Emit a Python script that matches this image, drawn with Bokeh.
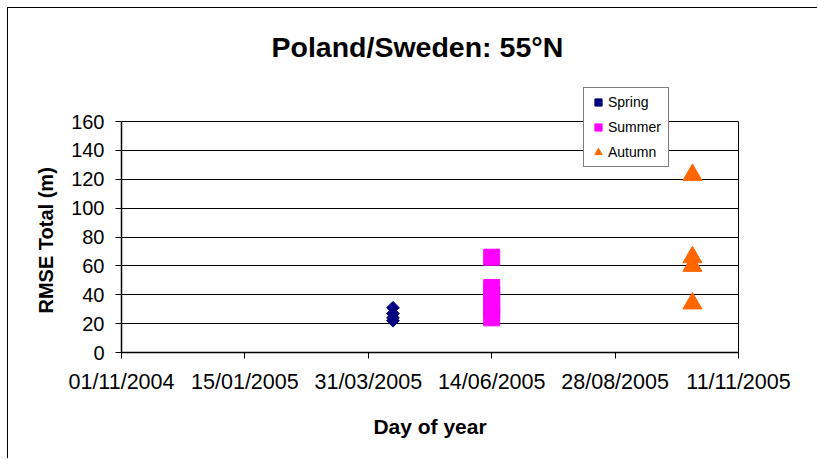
import pandas as pd
from bokeh.plotting import figure
from bokeh.models import (ColumnDataSource, FixedTicker, DatetimeTickFormatter,
                          Range1d, Legend, LegendItem, LinearAxis, Title)
from bokeh.embed import file_html
from bokeh.resources import INLINE
import math

# ---- data ----
spring_dates = ["15/04/2005", "15/04/2005", "15/04/2005", "15/04/2005"]
spring_rmse = [31, 27, 24, 22]
summer_dates = ["14/06/2005", "14/06/2005", "14/06/2005", "14/06/2005", "14/06/2005", "14/06/2005"]
summer_rmse = [66, 45, 40, 34, 29, 24]
autumn_dates = ["14/10/2005", "14/10/2005", "14/10/2005", "14/10/2005"]
autumn_rmse = [123, 66, 60, 34]
x_tick_labels = ["01/11/2004", "15/01/2005", "31/03/2005", "14/06/2005", "28/08/2005", "11/11/2005"]
y_ticks = [0, 20, 40, 60, 80, 100, 120, 140, 160]

title_text = "Poland/Sweden: 55°N"
x_label = "Day of year"
y_label = "RMSE Total (m)"

def to_dt(lst):
    return pd.to_datetime(lst, format="%d/%m/%Y")

tick_dt = to_dt(x_tick_labels)
tick_ms = [float(t.value // 10**6) for t in tick_dt]
y_max = y_ticks[-1]
# extra headroom above the plot area so the legend (which overlaps the top) is not clipped
y_top = y_max * 273 / 231

FONT = "Liberation Sans"

p = figure(width=810, height=451, output_backend="svg", toolbar_location=None,
           x_axis_type="datetime",
           x_range=Range1d(tick_dt[0], tick_dt[-1]), y_range=Range1d(0, y_top),
           min_border_left=113, min_border_right=80, min_border_top=71, min_border_bottom=107)
p.margin = (7, 0, 0, 7)
p.styles = {"border-top": "1px solid black", "border-left": "1px solid black"}

p.background_fill_color = "white"
p.border_fill_color = "white"
p.outline_line_color = None

p.title.text = title_text
p.title.text_font = FONT
p.title.text_font_style = "bold"
p.title.text_font_size = "28.5px"
p.title.text_color = "black"
p.title.align = "left"
p.title.offset = 150
p.title.standoff = 34

# y-axis title, placed along the 0..160 part of the axis
y_title = Title(text=y_label, align="left", offset=39, standoff=24,
                text_font=FONT, text_font_style="bold", text_font_size="20px",
                text_color="black")
p.add_layout(y_title, "left")

p.xgrid.grid_line_color = None
p.ygrid.grid_line_color = "black"
p.ygrid.grid_line_width = 1
p.ygrid.ticker = FixedTicker(ticks=y_ticks)

p.yaxis.ticker = FixedTicker(ticks=y_ticks)
p.yaxis.bounds = (0, y_max)
p.xaxis.ticker = FixedTicker(ticks=tick_ms)
fmt = "%d/%m/%Y"
p.xaxis.formatter = DatetimeTickFormatter(milliseconds=fmt, seconds=fmt, minsec=fmt, minutes=fmt,
                                          hourmin=fmt, hours=fmt, days=fmt, months=fmt, years=fmt)

for ax in (p.xaxis[0], p.yaxis[0]):
    ax.axis_line_color = "black"
    ax.axis_line_width = 1.5
    ax.major_tick_line_color = "black"
    ax.major_tick_out = 6
    ax.major_tick_in = 0
    ax.minor_tick_line_color = None
    ax.major_label_text_font = FONT
    ax.major_label_text_color = "black"
    ax.axis_label_text_font = FONT
    ax.axis_label_text_font_style = "bold"
    ax.axis_label_text_color = "black"

p.xaxis.major_label_text_font_size = "21.5px"
p.yaxis.major_label_text_font_size = "20px"
p.xaxis.axis_label_text_font_size = "21px"
p.xaxis.axis_label = x_label
p.xaxis.major_label_standoff = 11
p.yaxis.major_label_standoff = 11
p.xaxis.axis_label_standoff = 18

# right edge of the plot area
right_axis = LinearAxis(ticker=FixedTicker(ticks=[]), bounds=(0, y_max),
                        axis_line_color="black", axis_line_width=1,
                        major_label_text_color=None, major_tick_line_color=None,
                        minor_tick_line_color=None)
p.add_layout(right_axis, "right")

s_src = ColumnDataSource(dict(x=to_dt(spring_dates), y=spring_rmse))
su_src = ColumnDataSource(dict(x=to_dt(summer_dates), y=summer_rmse))
a_src = ColumnDataSource(dict(x=to_dt(autumn_dates), y=autumn_rmse))

r1 = p.scatter("x", "y", source=s_src, marker="square", angle=math.pi / 4, size=9,
               fill_color="#000080", line_color="#000080")
r2 = p.scatter("x", "y", source=su_src, marker="square", size=16,
               fill_color="#FF00FF", line_color="#FF00FF")
r3 = p.scatter("x", "y", source=a_src, marker="triangle", size=19,
               fill_color="#FF6600", line_color="#FF6600")

legend = Legend(items=[LegendItem(label="Spring", renderers=[r1]),
                       LegendItem(label="Summer", renderers=[r2]),
                       LegendItem(label="Autumn", renderers=[r3])],
                location=(462, 185))
legend.label_text_font = FONT
legend.label_text_font_size = "14px"
legend.label_text_color = "black"
legend.border_line_color = "black"
legend.border_line_width = 1
legend.background_fill_color = "white"
legend.background_fill_alpha = 1
legend.glyph_width = 18
legend.glyph_height = 18
legend.label_height = 18
legend.label_width = 55
legend.label_standoff = 1
legend.spacing = 7
legend.padding = 5
legend.margin = 0
p.add_layout(legend, "center")

open("out.html", "w").write(file_html(p, INLINE))
